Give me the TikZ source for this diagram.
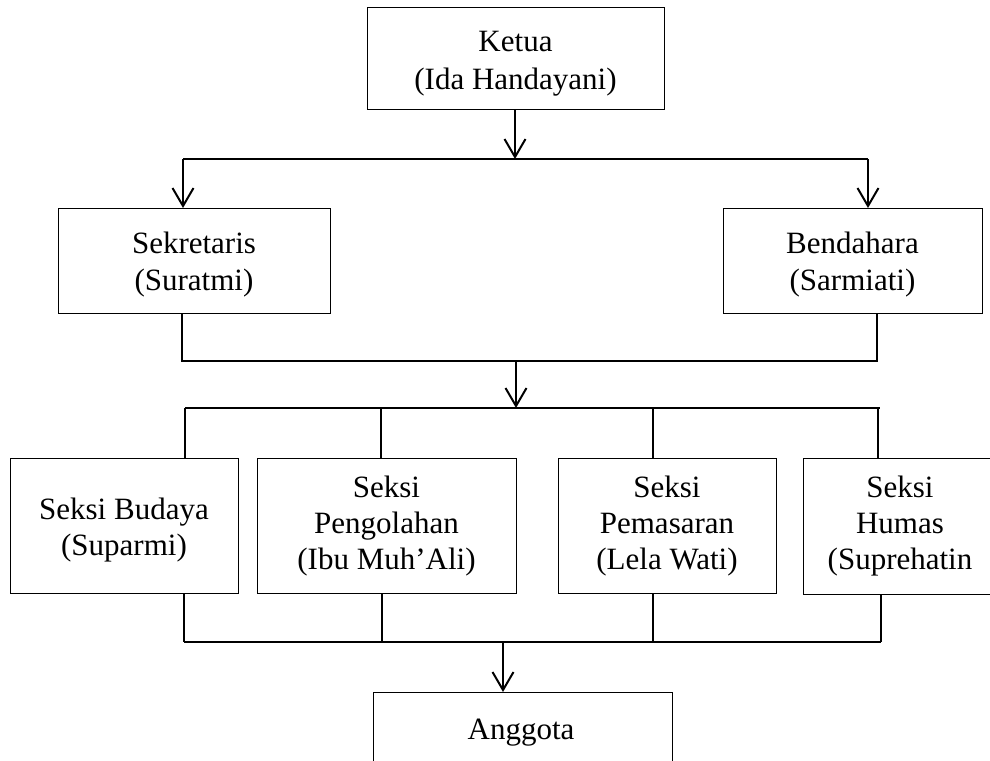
\documentclass[tikz,border=0pt]{standalone}
\usepackage{fontspec}
\setmainfont{Liberation Serif}
\usetikzlibrary{arrows.meta}
\begin{document}
\begin{tikzpicture}[x=1pt,y=-1pt,
  box/.style={draw, line width=1.4pt, inner sep=0pt, anchor=north west},
  txt/.style={anchor=base, inner sep=0pt, font=\fontsize{31}{36}\selectfont},
  link/.style={line width=2pt},
  arr/.style={line width=2pt, -{Straight Barb[length=18pt,width=21pt,line width=2pt]}}]
\useasboundingbox (0,0) rectangle (990,760);
\clip (0,0) rectangle (990,760);

% boxes
\node[box, minimum width=297pt, minimum height=102pt] (ketua) at (367,7) {};
\node[box, minimum width=272pt, minimum height=105pt] (sek) at (58,208) {};
\node[box, minimum width=259pt, minimum height=105pt] (ben) at (723,208) {};
\node[box, minimum width=228pt, minimum height=135pt] (bud) at (10,458) {};
\node[box, minimum width=259pt, minimum height=135pt] (peng) at (257,458) {};
\node[box, minimum width=218pt, minimum height=135pt] (pem) at (558,458) {};
\node[box, minimum width=194pt, minimum height=136pt] (hum) at (803,458) {};
\node[box, minimum width=299pt, minimum height=100pt] (ang) at (373,692) {};

% texts
\node[txt] (ketuaA) at (515.5,52) {Ketua};
\node[txt] (ketuaB) at (515.5,89) {(Ida Handayani)};
\node[txt] (sekA) at (194,253) {Sekretaris};
\node[txt] (sekB) at (194,290) {(Suratmi)};
\node[txt] (benA) at (852.5,253) {Bendahara};
\node[txt] (benB) at (852.5,290) {(Sarmiati)};
\node[txt] (budA) at (124,519) {Seksi Budaya};
\node[txt] (budB) at (124,555) {(Suparmi)};
\node[txt] (pengA) at (386.5,497) {Seksi};
\node[txt] (pengB) at (386.5,533) {Pengolahan};
\node[txt] (pengC) at (386.5,569) {(Ibu Muh’Ali)};
\node[txt] (pemA) at (667,497) {Seksi};
\node[txt] (pemB) at (667,533) {Pemasaran};
\node[txt] (pemC) at (667,569) {(Lela Wati)};
\node[txt] (humA) at (900,497) {Seksi};
\node[txt] (humB) at (900,533) {Humas};
\node[txt] (humC) at (900,569) {(Suprehatin};
\node[txt] (angA) at (521,739) {Anggota};

% junction points of the connector lines
\coordinate (b1L) at (183,159);
\coordinate (b1M) at (515,159);
\coordinate (b1R) at (868,159);
\coordinate (b2L) at (182,361);
\coordinate (b2M) at (516,361);
\coordinate (b2R) at (877,361);
\coordinate (b3L) at (185,408);
\coordinate (b3M) at (516,408);
\coordinate (b3R) at (880,408);
\coordinate (b4L) at (184,642);
\coordinate (b4M) at (503,642);
\coordinate (b4R) at (881,642);

% Ketua to Sekretaris and Bendahara
\draw[arr] (b1M |- ketua.south) -- (b1M);
\draw[link] (b1L) -- (b1R);
\draw[arr] (b1L) -- (b1L |- sek.north);
\draw[arr] (b1R) -- (b1R |- ben.north);

% Sekretaris and Bendahara to the sections
\draw[link] (b2L |- sek.south) -- (b2L) -- (b2R) -- (b2R |- ben.south);
\draw[arr] (b2M) -- (b3M);
\draw[link] (b3L) -- (b3R);
\draw[link] (b3L) -- (b3L |- bud.north);
\draw[link] (381,408) -- (381,458 |- peng.north);
\draw[link] (653,408) -- (653,458 |- pem.north);
\draw[link] (878,408) -- (878,458 |- hum.north);

% sections to Anggota
\draw[link] (b4L |- bud.south) -- (b4L);
\draw[link] (382,593 |- peng.south) -- (382,642);
\draw[link] (653,593 |- pem.south) -- (653,642);
\draw[link] (b4R |- hum.south) -- (b4R);
\draw[link] (b4L) -- (b4R);
\draw[arr] (b4M) -- (b4M |- ang.north);
\end{tikzpicture}
\end{document}
